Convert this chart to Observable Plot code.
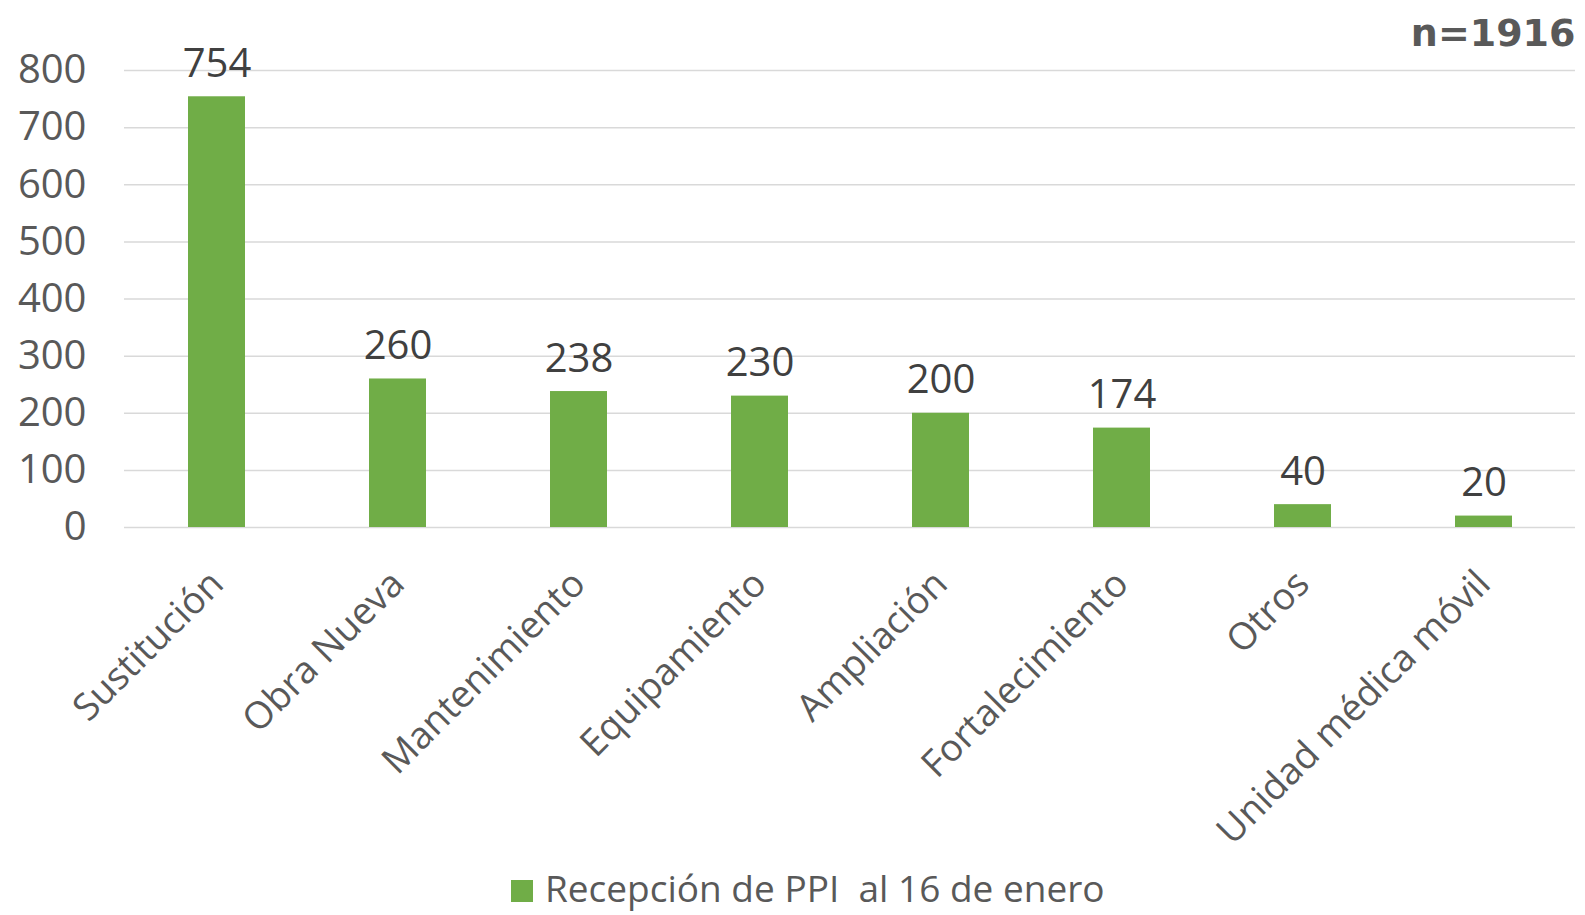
<!DOCTYPE html>
<html><head><meta charset="utf-8">
<script src="https://cdn.jsdelivr.net/npm/d3@7"></script>
<script src="https://cdn.jsdelivr.net/npm/@observablehq/plot@0.6"></script>
<style>
body{margin:0;background:#fff;font-family:"Open Sans",sans-serif;width:1585px;height:915px;overflow:hidden;position:relative;}
#legend{position:absolute;left:511px;top:869px;font-size:37px;line-height:1;color:#595959;white-space:pre;}
#legend .sw{display:inline-block;width:22px;height:22px;background:#70AD47;margin-right:12px;vertical-align:baseline;}
</style></head><body><div id="chart"></div><div id="legend"></div>
<script>
const categories = ["Sustitución","Obra Nueva","Mantenimiento","Equipamiento","Ampliación","Fortalecimiento","Otros","Unidad médica móvil"];
const values = [754,260,238,230,200,174,40,20];
const yTicks = [0,100,200,300,400,500,600,700,800];
const seriesName = "Recepción de PPI  al 16 de enero";
const sampleNote = "n=1916";
const barColor = "#70AD47";

const data = categories.map((c,i)=>({category:c,value:values[i]}));

const plot = Plot.plot({
  width:1585, height:850,
  marginTop:70, marginLeft:124, marginRight:10, marginBottom:323,
  style:{fontFamily:'"Open Sans", sans-serif', fontSize:"36px", color:"#595959", background:"#fff", overflow:"visible"},
  x:{domain:categories, paddingInner:0.686, paddingOuter:0.343, label:null},
  y:{domain:[0,800], label:null},
  marks:[
    Plot.gridY(yTicks,{stroke:"#D9D9D9", strokeOpacity:1, strokeWidth:1.5}),
    Plot.axisY(yTicks,{tickSize:0, tickPadding:38, fontSize:40, label:null, fill:"#595959"}),
    Plot.axisX({tickSize:0, tickRotate:-45, fontSize:37.5, label:null, tickPadding:50, dx:0, fill:"#595959"}),
    Plot.barY(data,{x:"category", y:"value", fill:barColor}),
    Plot.text(data,{x:"category", y:"value", text:d=>String(d.value), lineAnchor:"bottom", dy:-20, fill:"#404040", fontSize:40}),
    Plot.text([sampleNote],{frameAnchor:"top-right", dx:0, dy:-25, lineAnchor:"bottom", textAnchor:"end", text:d=>d, fontFamily:'"DejaVu Sans", sans-serif', fontWeight:"bold", fontSize:38, fill:"#595959"})
  ]
});
document.getElementById("chart").appendChild(plot);
const lg = document.getElementById("legend");
lg.innerHTML = '<span class="sw"></span><span class="lt"></span>';
lg.querySelector(".lt").textContent = seriesName;
</script>
</body></html>
